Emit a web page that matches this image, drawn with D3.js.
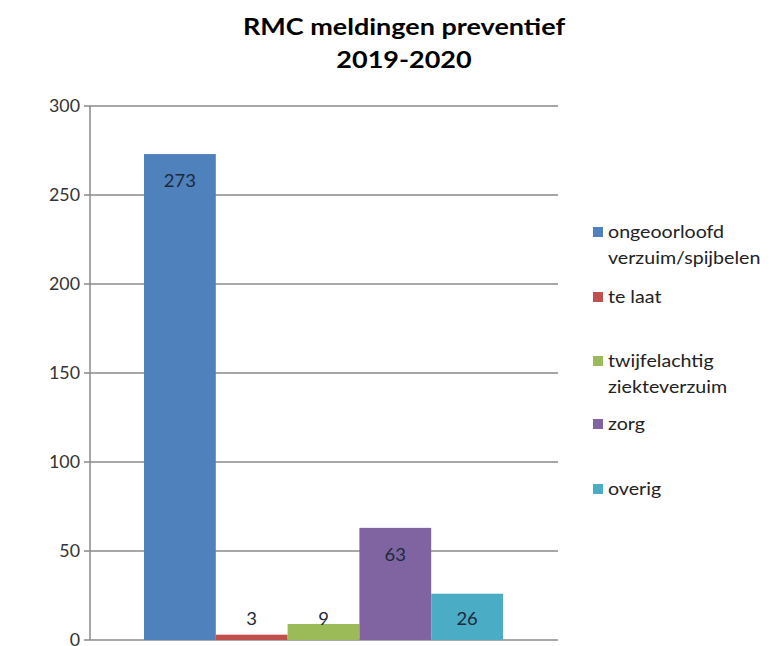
<!DOCTYPE html>
<html><head><meta charset="utf-8">
<script src="https://cdn.jsdelivr.net/npm/d3@7"></script>
<style>body{margin:0;background:#fff}svg{display:block}</style>
</head><body>
<svg id="chart" width="776" height="646"></svg>
<script>
const categories = ["ongeoorloofd verzuim/spijbelen", "te laat", "twijfelachtig ziekteverzuim", "zorg", "overig"];
const legendLines = [["ongeoorloofd", "verzuim/spijbelen"], ["te laat"], ["twijfelachtig", "ziekteverzuim"], ["zorg"], ["overig"]];
const values = [273, 3, 9, 63, 26];
const colors = ["#4F81BD", "#C0504D", "#9BBB59", "#8064A2", "#4BACC6"];
const yTicks = [0, 50, 100, 150, 200, 250, 300];
const titleLines = ["RMC meldingen preventief", "2019-2020"];

const svg = d3.select("#chart");
const font = "Lato, 'Open Sans', sans-serif";
const plot = {left: 90, right: 558, top: 106, bottom: 640};

const y = d3.scaleLinear().domain([0, 300]).range([plot.bottom, plot.top]);
const x = d3.scaleBand().domain(categories).range([144, 503]).padding(0);

// gridlines
svg.append("g").selectAll("line").data(yTicks).join("line")
  .attr("x1", plot.left - 6).attr("x2", plot.right)
  .attr("y1", d => y(d)).attr("y2", d => y(d))
  .attr("stroke", "#8a8a8a").attr("stroke-width", 1.5);

// y axis labels
svg.append("g").selectAll("text").data(yTicks).join("text")
  .attr("transform", d => `translate(80,${y(d)}) scale(1.08,1)`).attr("dy", "0.35em")
  .attr("text-anchor", "end").attr("font-family", font).attr("font-size", 16.5)
  .attr("fill", "#333").text(d => d);

// bars
svg.append("g").selectAll("rect").data(values).join("rect")
  .attr("x", (d, i) => x(categories[i])).attr("width", x.bandwidth())
  .attr("y", d => y(d)).attr("height", d => y(0) - y(d))
  .attr("fill", (d, i) => colors[i]);

// y axis line
svg.append("line").attr("x1", plot.left).attr("x2", plot.left)
  .attr("y1", plot.top).attr("y2", plot.bottom)
  .attr("stroke", "#8a8a8a").attr("stroke-width", 1.5);

// value labels
svg.append("g").selectAll("text").data(values).join("text")
  .attr("transform", (d, i) => `translate(${x(categories[i]) + x.bandwidth() / 2},${Math.min(y(d) + 27, 619)}) scale(1.12,1)`)
  .attr("dy", "0.35em")
  .attr("text-anchor", "middle").attr("font-family", font).attr("font-size", 16.5)
  .attr("fill", "#1c2a3a").text(d => d);

// title
svg.append("g").selectAll("text").data(titleLines).join("text")
  .attr("transform", (d, i) => `translate(404,${35 + i * 33}) scale(1.2,1)`)
  .attr("text-anchor", "middle").attr("font-family", font).attr("font-weight", "bold")
  .attr("font-size", 22.5).attr("fill", "#000").text(d => d);

// legend
const legendY = [232, 297, 361, 424, 489];
const lg = svg.append("g").selectAll("g").data(legendLines).join("g")
  .attr("transform", (d, i) => `translate(593,${legendY[i]})`);
lg.append("rect").attr("x", 0).attr("y", -5).attr("width", 10).attr("height", 10)
  .attr("fill", (d, i) => colors[i]);
lg.selectAll("text").data(d => d).join("text")
  .attr("transform", (d, j) => `translate(15,${j * 26}) scale(1.19,1)`).attr("dy", "0.35em")
  .attr("font-family", font).attr("font-size", 16.5).attr("fill", "#222").text(d => d);
</script>
</body></html>
